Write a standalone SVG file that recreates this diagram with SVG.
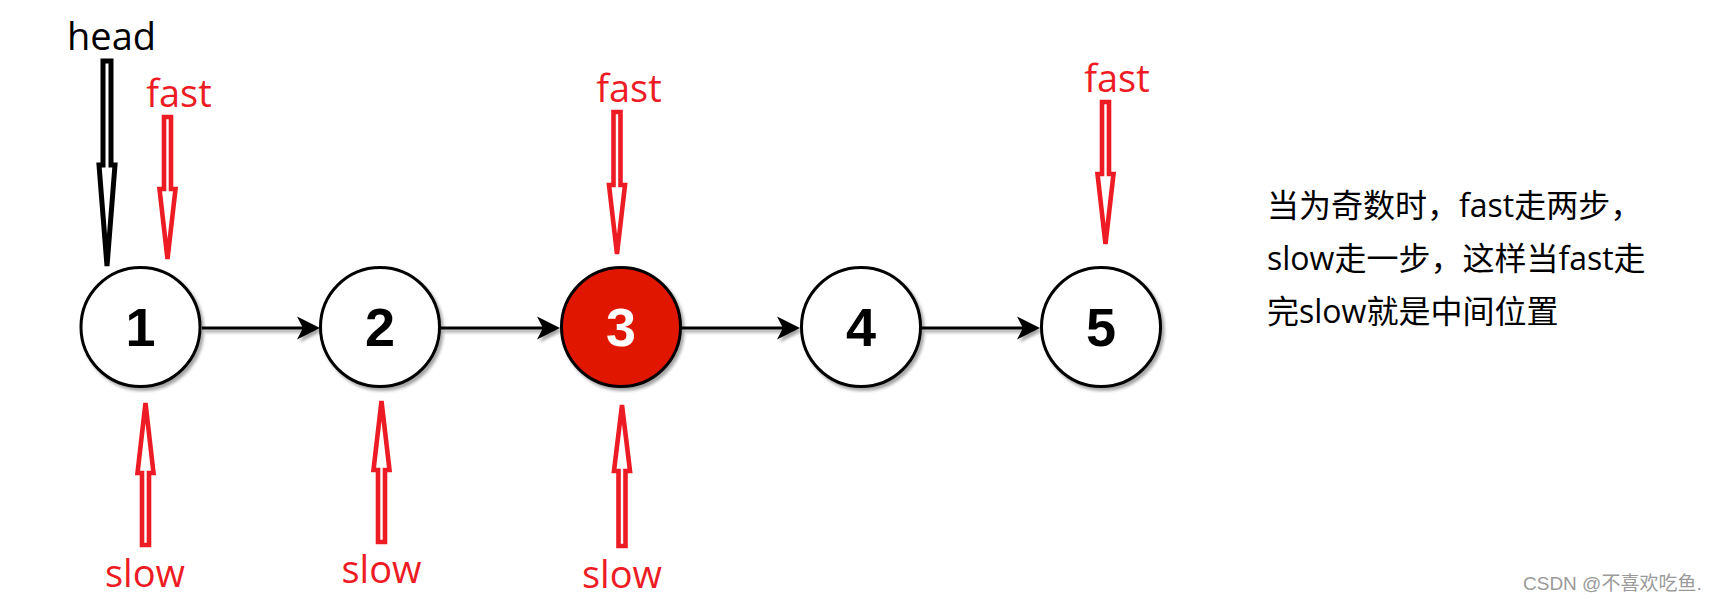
<svg xmlns="http://www.w3.org/2000/svg" width="1714" height="602" viewBox="0 0 1714 602">
<defs>
<filter id="sh" x="-20%" y="-20%" width="150%" height="150%">
<feDropShadow dx="2.5" dy="3" stdDeviation="1.5" flood-color="#000" flood-opacity="0.35"/>
</filter>
<style>
.node{fill:#fff;stroke:#000;stroke-width:3}
.hot{fill:#e01600}
.num{font-family:"Liberation Sans",Arial,sans-serif;font-weight:bold;font-size:54px;text-anchor:middle;fill:#000}
.numw{fill:#fff}
.edge{stroke:#000;stroke-width:3;fill:none}
.ah{fill:#000;stroke:none}
.ptr{fill:#fff;stroke:#ed1c24;stroke-width:4.6;stroke-linejoin:miter}
.ptrk{fill:#fff;stroke:#000;stroke-width:5;stroke-linejoin:miter}
.lbl{font-family:"Open Sans","Noto Sans",sans-serif;font-size:38px;text-anchor:middle;fill:#ed1c24}
.lblk{fill:#000}
.note{font-family:"Open Sans","Noto Sans CJK SC",sans-serif;font-size:32px;fill:#000}
.wm{font-family:"Liberation Sans","Noto Sans CJK SC",sans-serif;font-size:19px;fill:#9a9a9a}
</style>
</defs>
<rect width="1714" height="602" fill="#fff"/>

<g id="connectors" filter="url(#sh)">
<line class="edge" x1="202" y1="328" x2="306" y2="328"/>
<path class="ah" d="M320,328 L297,316.5 L303,328 L297,339.5 Z"/>
<line class="edge" x1="441" y1="328" x2="546" y2="328"/>
<path class="ah" d="M560,328 L537,316.5 L543,328 L537,339.5 Z"/>
<line class="edge" x1="682" y1="328" x2="786" y2="328"/>
<path class="ah" d="M800,328 L777,316.5 L783,328 L777,339.5 Z"/>
<line class="edge" x1="922" y1="328" x2="1026" y2="328"/>
<path class="ah" d="M1040,328 L1017,316.5 L1023,328 L1017,339.5 Z"/>
</g>

<g id="node1" filter="url(#sh)">
<circle class="node" cx="140.5" cy="327" r="59.5"/>
<text class="num" x="140.5" y="346">1</text>
</g>
<g id="node2" filter="url(#sh)">
<circle class="node" cx="380" cy="327" r="59.5"/>
<text class="num" x="380" y="346">2</text>
</g>
<g id="node3" filter="url(#sh)">
<circle class="node hot" cx="621" cy="327" r="59.5"/>
<text class="num numw" x="621" y="346">3</text>
</g>
<g id="node4" filter="url(#sh)">
<circle class="node" cx="861" cy="327" r="59.5"/>
<text class="num" x="861" y="346">4</text>
</g>
<g id="node5" filter="url(#sh)">
<circle class="node" cx="1101" cy="327" r="59.5"/>
<text class="num" x="1101" y="346">5</text>
</g>

<g id="head-pointer">
<text class="lbl lblk" x="111.5" y="50">head</text>
<path class="ptrk" d="M103,61 L111,61 L111,165 L115,165 L107,266 L99,165 L103,165 Z"/>
</g>
<g id="fast-pointer-1">
<text class="lbl" x="179" y="107">fast</text>
<path class="ptr" d="M164,117 L171,117 L171,189 L175.5,189 L167.5,259 L159.5,189 L164,189 Z"/>
</g>
<g id="fast-pointer-3">
<text class="lbl" x="629" y="102">fast</text>
<path class="ptr" d="M613.5,112 L620.5,112 L620.5,185 L625,185 L617,254 L609,185 L613.5,185 Z"/>
</g>
<g id="fast-pointer-5">
<text class="lbl" x="1117" y="92">fast</text>
<path class="ptr" d="M1102,102 L1109,102 L1109,174 L1113.5,174 L1105.5,244 L1097.5,174 L1102,174 Z"/>
</g>
<g id="slow-pointer-1">
<path class="ptr" d="M145.5,403 L153.5,473 L149,473 L149,545 L142,545 L142,473 L137.5,473 Z"/>
<text class="lbl" x="145" y="587">slow</text>
</g>
<g id="slow-pointer-2">
<path class="ptr" d="M381.5,401 L389.5,470 L385,470 L385,542 L378,542 L378,470 L373.5,470 Z"/>
<text class="lbl" x="381.5" y="583">slow</text>
</g>
<g id="slow-pointer-3">
<path class="ptr" d="M622,405 L630,471 L625.5,471 L625.5,546 L618.5,546 L618.5,471 L614,471 Z"/>
<text class="lbl" x="622" y="588">slow</text>
</g>

<g id="note">
<text class="note" x="1267" y="217">当为奇数时，fast走两步，</text>
<text class="note" x="1267" y="270">slow走一步，这样当fast走</text>
<text class="note" x="1267" y="323">完slow就是中间位置</text>
</g>

<text class="wm" x="1523" y="590">CSDN @不喜欢吃鱼.</text>
</svg>
